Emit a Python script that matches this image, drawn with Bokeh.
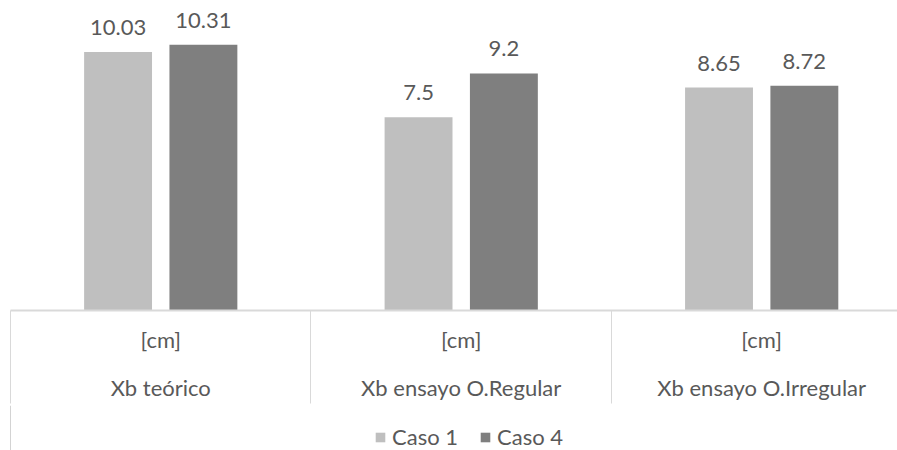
from bokeh.plotting import figure
from bokeh.layouts import column
from bokeh.models import (Range1d, LinearAxis, FixedTicker, ColumnDataSource, LabelSet,
                          Legend, LegendItem)
from bokeh.core.properties import value
from bokeh.embed import file_html
from bokeh.resources import INLINE

categories = ["Xb teórico", "Xb ensayo O.Regular", "Xb ensayo O.Irregular"]
units = ["[cm]", "[cm]", "[cm]"]
series_names = ["Caso 1", "Caso 4"]
caso1 = [10.03, 7.5, 8.65]
caso4 = [10.31, 9.2, 8.72]
colors = ["#bfbfbf", "#7f7f7f"]

FONT = "Lato"
TXT = "#595959"
FS = "22px"

n = len(categories)
centers = [i + 0.5 for i in range(n)]
offset = 0.142
bw = 0.226

p = figure(width=897, height=405,
           x_range=Range1d(0, 2.952), y_range=Range1d(0, 11.72),
           output_backend="svg", toolbar_location=None,
           x_axis_type=None, y_axis_type=None,
           min_border_left=10, min_border_right=0, min_border_top=8, min_border_bottom=95)
p.outline_line_color = None
p.xgrid.visible = False
p.ygrid.visible = False

for k, (vals, col) in enumerate(zip([caso1, caso4], colors)):
    xs = [c + (-offset if k == 0 else offset) for c in centers]
    src = ColumnDataSource(dict(x=xs, top=vals, label=[f"{v:g}" for v in vals]))
    p.vbar(x="x", top="top", width=bw, source=src, fill_color=col, line_color=None)
    lab = LabelSet(x="x", y="top", text="label", source=src, text_align="center",
                   text_baseline="bottom", y_offset=17, text_color=TXT,
                   text_font=value(FONT), text_font_size=value(FS))
    p.add_layout(lab)

ax1 = LinearAxis(ticker=FixedTicker(ticks=centers, minor_ticks=list(range(n + 1))),
                 major_label_overrides={c: u for c, u in zip(centers, units)},
                 major_tick_out=0, major_tick_in=0,
                 minor_tick_out=93, minor_tick_in=0,
                 minor_tick_line_color="#d9d9d9", axis_line_color="#d9d9d9",
                 axis_line_width=2,
                 major_label_standoff=-78,
                 major_label_text_color=TXT, major_label_text_font=FONT,
                 major_label_text_font_size=FS)
ax2 = LinearAxis(ticker=FixedTicker(ticks=centers, minor_ticks=[]),
                 major_label_overrides={c: t for c, t in zip(centers, categories)},
                 major_tick_out=0, major_tick_in=0, minor_tick_out=0,
                 axis_line_color=None,
                 major_label_standoff=18,
                 major_label_text_color=TXT, major_label_text_font=FONT,
                 major_label_text_font_size=FS)
p.add_layout(ax1, "below")
p.add_layout(ax2, "below")

# legend strip below the chart (its proxy bars lie outside the strip's visible range)
pl = figure(width=897, height=45, x_range=Range1d(0, 1), y_range=Range1d(0, 1),
            output_backend="svg", toolbar_location=None,
            x_axis_type=None, y_axis_type=None,
            min_border_left=0, min_border_right=0, min_border_top=0, min_border_bottom=0)
pl.outline_line_color = None
pl.xgrid.visible = False
pl.ygrid.visible = False
leg_renderers = [pl.vbar(x=[-5], top=[1], width=0.1, fill_color=c, line_color=None) for c in colors]
legend = Legend(items=[LegendItem(label=s, renderers=[r]) for s, r in zip(series_names, leg_renderers)],
                orientation="horizontal", location=(364, 0),
                glyph_width=12, glyph_height=12, label_standoff=6, spacing=21,
                label_text_font=FONT, label_text_font_size=FS, label_text_color=TXT,
                border_line_color=None, background_fill_alpha=0, padding=0, margin=0)
pl.add_layout(legend, "center")

layout = column(p, pl, spacing=0)
open("out.html", "w").write(file_html(layout, INLINE))
